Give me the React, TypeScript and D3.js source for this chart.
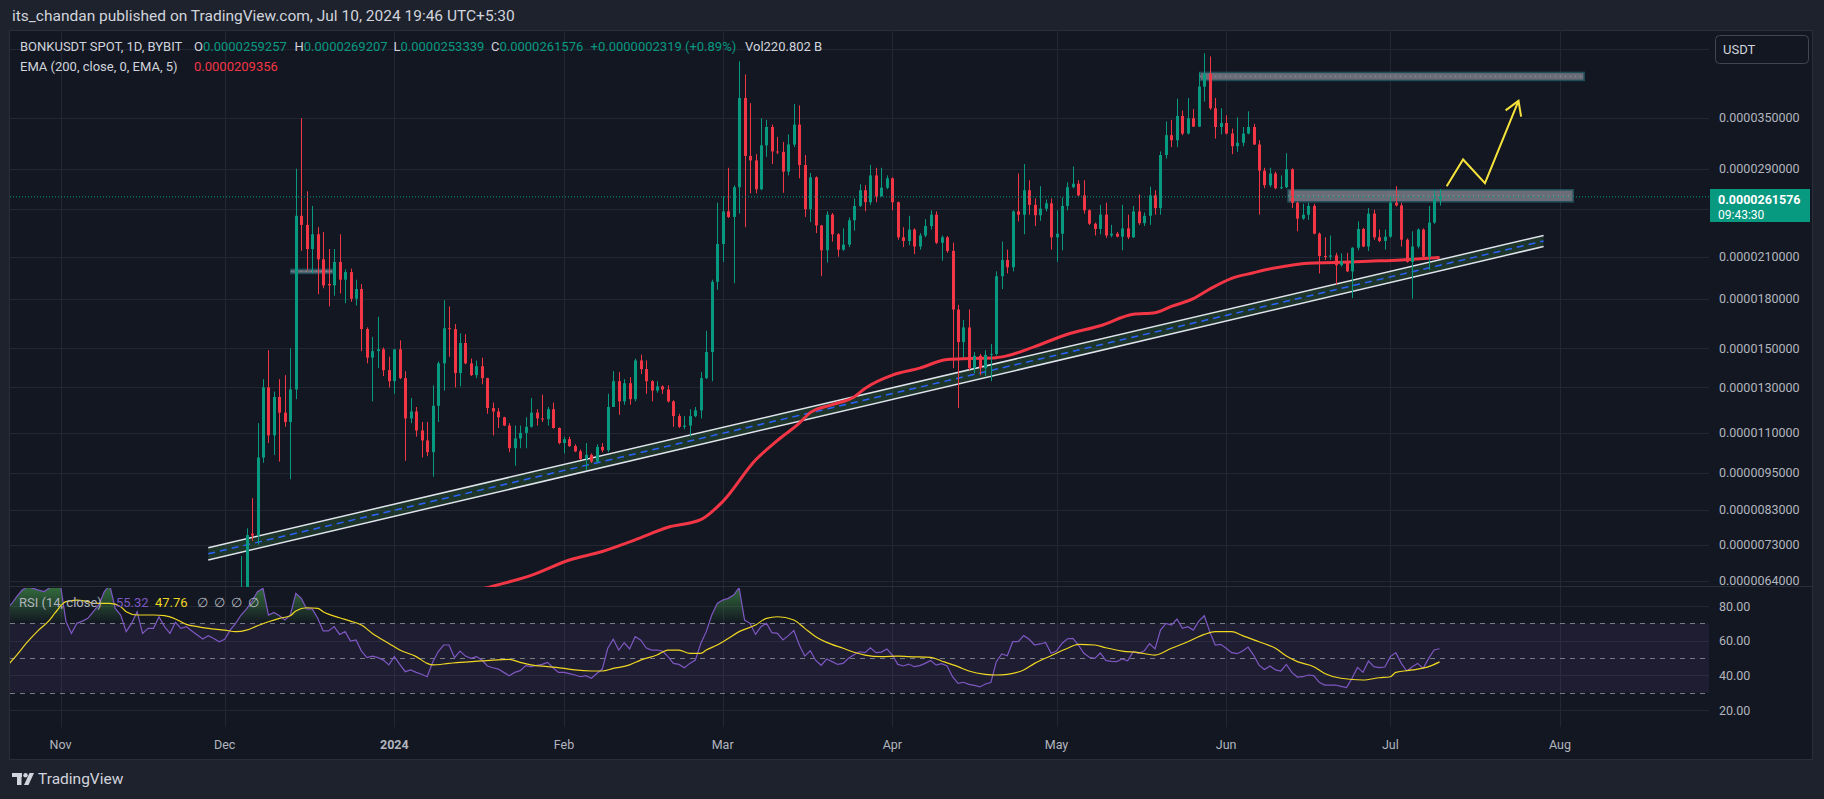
import * as d3 from "d3";

// open, high, low, close — prices in millionths of a USDT (1e-6)
type Bar = [number, number, number, number];

const decBars: Bar[] = [
  [5.2, 7.0, 5.0, 5.6], [5.6, 7.75, 5.4, 7.56], [7.6, 8.66, 7.4, 7.55], [7.55, 11.4, 7.3, 10.05],
  [10.05, 13.4, 9.86, 13.0], [13.0, 14.9, 10.6, 10.9], [10.9, 12.8, 10.15, 12.55], [12.55, 13.4, 9.9, 11.85],
  [11.85, 13.6, 11.25, 11.45], [11.45, 15.0, 9.28, 12.9], [12.9, 29.0, 12.45, 24.4], [24.4, 34.9, 21.45, 23.6],
  [23.6, 26.7, 20.0, 21.6], [21.6, 25.3, 19.75, 22.8], [22.8, 23.4, 18.3, 20.8], [20.8, 23.0, 18.7, 18.9],
  [19.0, 21.6, 17.5, 18.9], [18.9, 21.6, 18.2, 20.6], [20.6, 22.8, 18.35, 19.3], [19.3, 20.05, 17.7, 19.85],
  [19.85, 20.1, 17.8, 18.0], [18.0, 19.3, 17.55, 18.65], [18.65, 19.0, 14.85, 16.1], [16.1, 16.2, 14.2, 14.5],
  [14.5, 15.65, 12.35, 14.85], [14.85, 16.85, 13.95, 14.95], [14.95, 15.05, 13.55, 13.85], [13.85, 14.55, 13.0, 13.3],
];
const janBars: Bar[] = [
  [13.3, 14.95, 12.7, 14.95], [14.95, 15.45, 13.4, 13.45], [13.45, 13.8, 9.93, 11.6], [11.6, 12.5, 11.4, 11.9],
  [11.9, 12.1, 10.85, 11.1], [11.1, 11.45, 10.05, 10.7], [10.7, 11.45, 10.1, 10.25], [10.25, 13.1, 9.37, 12.15],
  [12.15, 14.3, 11.45, 14.2], [14.2, 17.9, 12.85, 16.15], [16.15, 17.5, 14.55, 16.1], [16.1, 16.4, 13.0, 13.7],
  [13.7, 15.85, 13.05, 15.3], [15.3, 15.8, 14.15, 14.2], [14.2, 14.45, 13.55, 13.6], [13.6, 14.35, 13.45, 14.05],
  [14.05, 14.5, 13.15, 13.45], [13.45, 13.47, 11.8, 12.05], [12.05, 12.3, 10.9, 11.9], [11.9, 12.05, 11.2, 11.65],
  [11.65, 11.67, 11.28, 11.3], [11.3, 11.4, 10.25, 10.4], [10.4, 11.3, 9.75, 10.78], [10.78, 11.3, 10.4, 11.0],
  [11.0, 11.65, 10.4, 11.25], [11.25, 12.5, 11.22, 11.85], [11.85, 12.0, 11.3, 11.6], [11.6, 12.65, 11.45, 11.57],
  [11.57, 12.1, 11.3, 12.0], [12.0, 12.3, 11.17, 11.2], [11.2, 11.22, 10.55, 10.6],
];
const febBars: Bar[] = [
  [10.6, 10.85, 10.2, 10.75], [10.75, 10.85, 10.45, 10.48], [10.48, 10.55, 10.25, 10.28], [10.28, 10.35, 9.96, 10.0],
  [10.0, 10.6, 9.6, 10.15], [10.15, 10.2, 9.85, 9.9], [9.9, 10.55, 9.85, 10.45], [10.45, 10.6, 10.25, 10.32],
  [10.32, 12.7, 10.25, 12.1], [12.1, 13.8, 12.1, 13.3], [13.3, 13.75, 11.75, 12.35], [12.35, 13.4, 12.2, 13.2],
  [13.2, 13.5, 12.2, 12.45], [12.45, 14.45, 12.35, 14.35], [14.35, 14.65, 13.65, 13.9], [13.9, 14.35, 12.7, 13.3],
  [13.3, 13.35, 12.35, 12.85], [12.85, 13.3, 12.75, 13.05], [13.05, 13.1, 12.7, 12.9], [12.9, 13.1, 12.3, 12.35],
  [12.35, 12.4, 11.25, 11.7], [11.7, 11.8, 11.2, 11.25], [11.25, 11.7, 11.15, 11.3], [11.3, 12.0, 10.85, 11.7],
  [11.7, 12.1, 11.65, 11.95], [11.95, 13.75, 11.6, 13.45], [13.45, 16.0, 13.4, 14.8], [14.8, 19.3, 13.3, 19.15],
  [19.15, 25.6, 18.6, 22.0],
];
const marBars: Bar[] = [
  [22.0, 26.2, 20.6, 24.8], [24.8, 29.1, 24.2, 24.3], [24.3, 27.3, 19.05, 27.1], [27.1, 43.0, 24.6, 37.6],
  [37.6, 41.0, 23.4, 30.4], [30.4, 36.9, 26.5, 29.9], [29.9, 30.6, 26.5, 26.9], [26.9, 34.9, 26.8, 31.6],
  [31.6, 34.7, 30.3, 33.8], [33.8, 34.1, 29.5, 30.9], [30.9, 32.6, 30.6, 30.85], [30.85, 32.0, 26.55, 28.7],
  [28.7, 32.9, 28.3, 31.7], [31.7, 36.8, 31.4, 34.1], [34.1, 36.6, 28.0, 29.4], [29.4, 30.5, 24.3, 25.0],
  [25.0, 28.55, 23.85, 28.1], [28.1, 28.2, 22.9, 23.55], [23.55, 23.6, 19.55, 21.5], [21.5, 24.8, 20.55, 24.5],
  [24.5, 24.65, 22.2, 22.8], [22.8, 22.9, 21.0, 21.55], [21.55, 23.3, 21.45, 21.95], [21.95, 24.25, 21.75, 24.0],
  [24.0, 26.0, 23.1, 25.3], [25.3, 27.4, 25.2, 26.8], [26.8, 27.3, 24.8, 25.65], [25.65, 29.4, 25.4, 28.3],
  [28.3, 29.1, 25.65, 26.2], [26.2, 29.1, 26.2, 27.05], [27.05, 28.3, 26.9, 28.0],
];
const aprBars: Bar[] = [
  [28.0, 28.1, 24.9, 25.65], [25.65, 25.7, 22.35, 22.55], [22.55, 23.4, 21.75, 22.25], [22.25, 24.4, 21.9, 23.2],
  [23.2, 23.3, 21.2, 21.8], [21.8, 22.9, 21.55, 22.7], [22.7, 24.1, 22.55, 23.5], [23.5, 24.9, 23.2, 24.5],
  [24.5, 24.8, 22.0, 22.1], [22.1, 22.7, 20.7, 22.55], [22.55, 22.65, 21.3, 21.45], [21.45, 22.1, 13.95, 17.3],
  [17.3, 17.6, 12.05, 15.35], [15.35, 16.65, 14.5, 16.2], [16.2, 17.3, 13.85, 13.95], [13.95, 14.8, 13.7, 14.6],
  [14.6, 14.7, 13.6, 13.95], [13.95, 14.9, 13.55, 14.65], [14.65, 15.25, 13.3, 14.7], [14.7, 19.9, 14.6, 19.55],
  [19.55, 22.2, 18.65, 20.75], [20.75, 21.55, 19.75, 20.2], [20.2, 24.9, 19.9, 24.8], [24.8, 28.5, 23.9, 24.5],
  [24.5, 29.5, 22.8, 26.8], [26.8, 27.8, 24.5, 25.4], [25.4, 26.0, 23.5, 24.45], [24.45, 27.2, 23.95, 25.05],
  [25.05, 25.9, 24.8, 25.55], [25.55, 26.0, 21.55, 22.55],
];
const mayBars: Bar[] = [
  [22.55, 24.9, 20.6, 22.85], [22.85, 26.1, 21.5, 25.3], [25.3, 27.6, 24.9, 27.1], [27.1, 29.25, 27.0, 27.45],
  [27.45, 27.8, 26.2, 26.3], [26.3, 27.8, 24.6, 24.9], [24.9, 25.0, 23.6, 23.7], [23.7, 23.8, 22.7, 23.25],
  [23.25, 25.4, 22.8, 24.5], [24.5, 25.6, 22.5, 22.7], [22.7, 23.6, 22.55, 22.85], [22.85, 23.0, 22.55, 22.6],
  [22.6, 25.4, 21.5, 23.3], [23.3, 24.5, 22.4, 22.55], [22.55, 25.3, 22.5, 24.8], [24.8, 26.4, 23.6, 23.75],
  [23.75, 24.7, 23.5, 24.4], [24.4, 27.15, 23.6, 26.3], [26.3, 26.8, 24.5, 25.1], [25.1, 30.9, 24.5, 30.5],
  [30.5, 34.5, 30.1, 32.8], [32.8, 34.7, 31.4, 32.2], [32.2, 37.5, 31.4, 35.2], [35.2, 35.9, 32.8, 33.0],
  [33.0, 37.6, 32.9, 34.9], [34.9, 36.1, 33.8, 33.85], [33.85, 41.3, 33.8, 39.2], [39.2, 44.3, 37.1, 41.1],
  [41.1, 43.8, 36.0, 36.2], [36.2, 37.6, 32.4, 33.8], [33.8, 36.2, 32.9, 34.3],
];
const junBars: Bar[] = [
  [34.3, 35.3, 32.9, 33.0], [33.0, 33.6, 30.6, 31.5], [31.5, 35.0, 30.85, 31.9], [31.9, 33.8, 31.5, 33.0],
  [33.0, 35.8, 32.9, 33.8], [33.8, 34.2, 31.65, 31.7], [31.7, 32.2, 24.5, 28.8], [28.8, 29.1, 27.0, 27.3],
  [27.3, 29.1, 27.1, 28.5], [28.5, 28.7, 26.9, 27.0], [27.0, 28.3, 26.9, 27.1], [27.1, 30.7, 27.0, 28.95],
  [28.95, 29.05, 25.1, 25.6], [25.6, 25.7, 23.05, 24.15], [24.15, 25.5, 24.05, 24.5], [24.5, 25.6, 24.05, 25.3],
  [25.3, 25.5, 22.8, 22.85], [22.85, 22.95, 19.75, 21.05], [21.05, 22.55, 20.75, 21.0], [21.0, 22.7, 20.75, 21.1],
  [21.1, 21.3, 18.95, 20.35], [20.35, 21.25, 20.25, 20.65], [20.65, 21.3, 19.85, 19.9], [19.9, 21.75, 18.05, 21.7],
  [21.7, 23.9, 21.5, 23.25], [23.25, 23.35, 21.75, 21.8], [21.8, 25.1, 21.45, 24.6], [24.6, 24.95, 22.35, 22.55],
  [22.55, 23.2, 22.15, 22.25], [22.25, 23.2, 21.55, 22.6],
];
const julBars: Bar[] = [
  [22.6, 26.15, 22.5, 25.6], [25.6, 27.2, 25.25, 25.35], [25.35, 25.6, 21.8, 22.35], [22.35, 22.45, 20.55, 20.6],
  [20.6, 23.05, 18.0, 21.8], [21.8, 23.3, 21.65, 23.2], [23.2, 23.3, 20.85, 21.0], [21.0, 25.3, 20.0, 23.8],
  [23.8, 26.8, 23.7, 25.9257], [25.9257, 26.9207, 25.3339, 26.1576],
];

const barMonths: [string, Bar[]][] = [
  ["2023-12-04", decBars], ["2024-01-01", janBars], ["2024-02-01", febBars], ["2024-03-01", marBars],
  ["2024-04-01", aprBars], ["2024-05-01", mayBars], ["2024-06-01", junBars], ["2024-07-01", julBars],
];

// EMA 200 (same units), read at points along the curve
const ema200: [string, number][] = [
  ["2024-01-10", 6.0], ["2024-01-19", 6.27], ["2024-01-26", 6.52], ["2024-02-02", 6.9], ["2024-02-08", 7.12],
  ["2024-02-14", 7.43], ["2024-02-20", 7.78], ["2024-02-26", 8.0], ["2024-03-01", 8.55], ["2024-03-07", 9.96],
  ["2024-03-11", 10.7], ["2024-03-15", 11.4], ["2024-03-17", 11.85], ["2024-03-21", 12.2], ["2024-03-25", 12.55],
  ["2024-03-27", 12.95], ["2024-04-01", 13.6], ["2024-04-06", 13.95], ["2024-04-11", 14.4], ["2024-04-15", 14.45],
  ["2024-04-20", 14.5], ["2024-04-22", 14.6], ["2024-04-27", 15.1], ["2024-05-03", 15.8], ["2024-05-09", 16.3],
  ["2024-05-15", 17.0], ["2024-05-19", 17.1], ["2024-05-22", 17.5], ["2024-05-26", 18.0], ["2024-05-29", 18.65],
  ["2024-06-02", 19.4], ["2024-06-06", 19.8], ["2024-06-08", 20.0], ["2024-06-12", 20.3], ["2024-06-16", 20.5],
  ["2024-06-21", 20.55], ["2024-06-27", 20.65], ["2024-07-03", 20.75], ["2024-07-10", 20.9356],
];

// RSI(14), one value per day from the start date
const rsiStart = "2023-10-22";
const rsiValues = [
  79, 81, 85.4, 89.2, 91.1, 90.2, 89.2, 88.3, 90.5, 93,
  92, 71, 64.2, 70, 71.3, 72.9, 76.7, 80.6, 88.3, 92,
  78.6, 74.8, 65.2, 70, 76.7, 64.2, 67.1, 67.1, 73.8, 68.1,
  64.2, 70.6, 67.1, 68.1, 65.6, 63.3, 61, 62.9, 61.3, 59.4,
  60.8, 66.1, 70, 74.8, 78.3, 82.9, 88.3, 90.2, 74.8, 76.3,
  74.4, 71.9, 74.8, 87.3, 84.4, 78.3, 78.3, 72.9, 65.6, 65.6,
  68.1, 63.6, 65.2, 59.8, 60.4, 54, 50.2, 51.1, 50.2, 48.8,
  46, 50.8, 46.3, 42.1, 43.1, 41.7, 40.6, 39.2, 47.5, 53.6,
  57.5, 57.5, 50.2, 54, 51.1, 49.8, 50.8, 48.8, 45.4, 44.4,
  43.6, 41.7, 39.8, 41.7, 42.7, 45.6, 45, 45.8, 46.3, 47.5,
  44.4, 41.7, 41.7, 41, 40.2, 39.2, 39.8, 38.3, 41.1, 43.6,
  55.6, 60.8, 54.6, 58.8, 55.2, 62.3, 60.4, 55.9, 54.6, 54.6,
  54, 50.8, 46.9, 46.3, 44.4, 46.9, 48.8, 58.4, 65.2, 74.8,
  81.5, 83.4, 84.4, 86.3, 90.6, 71.9, 70, 63.6, 68.1, 70,
  64.6, 64.2, 60.4, 62.9, 65.8, 57.5, 51.1, 54.2, 48.6, 45.8,
  49.4, 47.9, 46.3, 46.9, 49.8, 51.9, 53.6, 53.1, 55.9, 53.1,
  53.4, 55.2, 51.7, 46.3, 45.4, 46.5, 45, 45.6, 46.9, 48.6,
  45.9, 46.7, 45.4, 39.2, 35.4, 36, 34.8, 34.2, 33.3, 35,
  35.8, 47.9, 52.3, 51.3, 59.4, 59.4, 62.9, 60.8, 57.5, 58.1,
  59, 52.7, 54, 58.4, 61.1, 61.3, 57.5, 52.7, 50.4, 49.8,
  52.9, 48.6, 48.1, 47.9, 49.4, 48.4, 53.6, 52.7, 54, 58.3,
  55.2, 66.1, 70, 69, 72.5, 67.1, 68.1, 66.1, 71.3, 74.4,
  65.2, 57.5, 57.9, 55.6, 53.1, 52.5, 54, 56.3, 51.7, 45.9,
  43.4, 45.4, 43.1, 42.5, 46.3, 41.7, 39, 39.2, 40.2, 39.8,
  36, 34.4, 34.4, 34.4, 33.6, 32.9, 38.3, 44.6, 41.7, 48.2,
  45, 44.4, 44.8, 50.8, 53.1, 46.9, 42.5, 45, 46.9, 44,
  49.8, 54.6, 55.32,
];

// RSI-based MA, read at points along the curve
const rsiMa: [string, number][] = [
  ["2023-10-22", 44.5], ["2023-10-24", 51.7], ["2023-10-26", 59.4], ["2023-10-28", 66.1], ["2023-10-30", 71.9],
  ["2023-10-31", 76], ["2023-11-02", 82.5], ["2023-11-04", 83.4], ["2023-11-06", 82.5], ["2023-11-07", 81.5],
  ["2023-11-10", 81.5], ["2023-11-12", 79.6], ["2023-11-13", 76.7], ["2023-11-15", 74.8], ["2023-11-18", 74.8],
  ["2023-11-20", 74.4], ["2023-11-22", 72.5], ["2023-11-24", 69.4], ["2023-11-26", 68.1], ["2023-11-28", 67.1],
  ["2023-12-01", 66.1], ["2023-12-03", 65.2], ["2023-12-05", 66.1], ["2023-12-07", 68.6], ["2023-12-09", 70.9],
  ["2023-12-11", 72.9], ["2023-12-13", 74.4], ["2023-12-14", 77.1], ["2023-12-16", 79], ["2023-12-18", 78.6],
  ["2023-12-19", 76.7], ["2023-12-22", 73.2], ["2023-12-24", 71.3], ["2023-12-26", 69], ["2023-12-28", 64.2],
  ["2023-12-31", 58.4], ["2024-01-02", 54.6], ["2024-01-05", 50.8], ["2024-01-07", 46.9], ["2024-01-08", 46],
  ["2024-01-11", 46.9], ["2024-01-13", 47.5], ["2024-01-17", 48.3], ["2024-01-19", 48.8], ["2024-01-22", 49.2],
  ["2024-01-24", 47.5], ["2024-01-26", 46], ["2024-01-29", 45], ["2024-02-01", 44], ["2024-02-03", 43.1],
  ["2024-02-06", 42.5], ["2024-02-08", 42.5], ["2024-02-10", 44], ["2024-02-13", 46], ["2024-02-15", 48.8],
  ["2024-02-18", 51.7], ["2024-02-20", 54.6], ["2024-02-22", 54.6], ["2024-02-24", 52.7], ["2024-02-26", 52.7],
  ["2024-02-27", 54.6], ["2024-02-29", 57.5], ["2024-03-02", 61.3], ["2024-03-04", 65.2], ["2024-03-07", 69],
  ["2024-03-09", 72.9], ["2024-03-11", 73.8], ["2024-03-14", 71.9], ["2024-03-16", 67.1], ["2024-03-18", 62.3],
  ["2024-03-20", 59], ["2024-03-23", 55.6], ["2024-03-25", 53.3], ["2024-03-27", 51.7], ["2024-03-30", 50.8],
  ["2024-04-02", 51.1], ["2024-04-04", 50.8], ["2024-04-08", 50.4], ["2024-04-10", 48.3], ["2024-04-13", 45],
  ["2024-04-15", 42.5], ["2024-04-18", 40.6], ["2024-04-20", 40.2], ["2024-04-22", 40.6], ["2024-04-25", 43.1],
  ["2024-04-27", 46.9], ["2024-04-30", 51.3], ["2024-05-03", 55.6], ["2024-05-05", 57.9], ["2024-05-08", 57.5],
  ["2024-05-10", 55.9], ["2024-05-13", 54], ["2024-05-16", 53.1], ["2024-05-19", 51.7], ["2024-05-22", 55.6],
  ["2024-05-25", 59.4], ["2024-05-28", 63.6], ["2024-05-30", 65.2], ["2024-06-02", 65.2], ["2024-06-04", 62.9],
  ["2024-06-07", 59.4], ["2024-06-10", 55.6], ["2024-06-12", 51.1], ["2024-06-14", 47.9], ["2024-06-17", 45],
  ["2024-06-19", 41.1], ["2024-06-22", 38.3], ["2024-06-26", 37.3], ["2024-06-29", 38.6], ["2024-07-01", 39.2],
  ["2024-07-02", 41.7], ["2024-07-05", 43.1], ["2024-07-08", 45], ["2024-07-10", 47.76],
];

// grid levels; the 45 and 25 labels sit under the USDT box and the price label, so only the rest are printed
const priceGrid = [45, 35, 29, 25, 21, 18, 15, 13, 11, 9.5, 8.3, 7.3, 6.4];
const priceLabels = [35, 29, 21, 18, 15, 13, 11, 9.5, 8.3, 7.3, 6.4];
const rsiTicks = [80, 60, 40, 20];
const rsiBands = [70, 50, 30];
const monthTicks: [string, string][] = [
  ["2023-11-01", "Nov"], ["2023-12-01", "Dec"], ["2024-01-01", "2024"], ["2024-02-01", "Feb"],
  ["2024-03-01", "Mar"], ["2024-04-01", "Apr"], ["2024-05-01", "May"], ["2024-06-01", "Jun"],
  ["2024-07-01", "Jul"], ["2024-08-01", "Aug"],
];

// drawings
const channelEnds: [string, string] = ["2023-11-28", "2024-07-29"];
const channelUpper: [number, number] = [7.22, 22.7];
const channelLower: [number, number] = [6.9, 21.8];
const zones: [string, string, number, number][] = [
  ["2024-05-27T05:00Z", "2024-08-05T10:00Z", 40.1, 41.3],
  ["2024-06-12T07:00Z", "2024-08-03T10:00Z", 25.68, 26.85],
  ["2023-12-13T02:00Z", "2023-12-20T19:00Z", 19.75, 20.05],
];
const arrowPath: [string, number][] = [
  ["2024-07-11T07:00Z", 27.2], ["2024-07-14T07:00Z", 30.0], ["2024-07-18T07:00Z", 27.5], ["2024-07-24T10:00Z", 37.2],
];

const UP = "#089981";
const DN = "#f23645";
const TXT = "#b2b5be";
const FONT = "Roboto, 'Open Sans', sans-serif";

const day = (s: string) => new Date(s.length === 10 ? s + "T00:00:00Z" : s);
const fmtP = (v: number) => (v * 1e-6).toFixed(10);

export default function App() {
  const L = 10, R = 1709, T = 30, MB = 587, RT = 588, RB = 727;

  const x = d3.scaleUtc().domain([day("2023-11-01"), day("2024-08-01")]).range([60.5, 1560]);
  const y = d3.scaleLog().domain([6.4, 35]).range([580.5, 117.5]);
  const yr = d3.scaleLinear().domain([20, 80]).range([710, 606]);

  const bars = barMonths.flatMap(([s, list]) =>
    list.map((b, i) => ({ t: d3.utcDay.offset(day(s), i), o: b[0], h: b[1], l: b[2], c: b[3] }))
  );
  const last = bars[bars.length - 1];
  const prev = bars[bars.length - 2];
  const chg = last.c - prev.c;

  const emaLine = d3.line<[string, number]>().x((d) => x(day(d[0]))).y((d) => y(d[1])).curve(d3.curveMonotoneX);

  const rsi = rsiValues.map((v, i) => ({ t: d3.utcDay.offset(day(rsiStart), i), v }));
  const rsiLine = d3.line<{ t: Date; v: number }>().x((d) => x(d.t)).y((d) => yr(d.v));
  const obArea = d3.area<{ t: Date; v: number }>().x((d) => x(d.t)).y0(yr(70)).y1((d) => yr(d.v));
  const maLine = d3.line<[string, number]>().x((d) => x(day(d[0]))).y((d) => yr(d[1])).curve(d3.curveMonotoneX);

  const cx0 = x(day(channelEnds[0])), cx1 = x(day(channelEnds[1]));
  const up0 = y(channelUpper[0]), up1 = y(channelUpper[1]);
  const lo0 = y(channelLower[0]), lo1 = y(channelLower[1]);

  const arrowPts = arrowPath.map(([t, v]) => [x(day(t)), y(v)] as [number, number]);
  const [ax0, ay0] = arrowPts[arrowPts.length - 2];
  const [ax1, ay1] = arrowPts[arrowPts.length - 1];
  const ang = Math.atan2(ay1 - ay0, ax1 - ax0);
  const head = (da: number) => [ax1 - 16 * Math.cos(ang + da), ay1 - 16 * Math.sin(ang + da)];
  const h1 = head(0.55), h2 = head(-0.55);

  const priceY = y(last.c);

  return (
    <svg width={1824} height={799} style={{ position: "absolute", left: 0, top: 0, display: "block" }} fontFamily={FONT}>
      <defs>
        <clipPath id="main"><rect x={L} y={T} width={R - L} height={MB - T} /></clipPath>
        <clipPath id="rsi"><rect x={L} y={RT} width={R - L} height={RB - RT} /></clipPath>
        <clipPath id="ob"><rect x={L} y={RT} width={R - L} height={yr(70) - RT} /></clipPath>
        <linearGradient id="obg" gradientUnits="userSpaceOnUse" x1={0} y1={yr(100)} x2={0} y2={yr(70)}>
          <stop offset="0" stopColor="#4caf50" stopOpacity={0.8} />
          <stop offset="1" stopColor="#4caf50" stopOpacity={0} />
        </linearGradient>
      </defs>

      <rect width={1824} height={799} fill="#1e222d" />
      <rect x={9.5} y={30.5} width={1803} height={729} fill="#131722" stroke="#2a2e39" />

      <text x={12} y={21} fontSize={15.5} fill="#d1d4dc">its_chandan published on TradingView.com, Jul 10, 2024 19:46 UTC+5:30</text>

      {/* grid */}
      {priceGrid.map((p) => (
        <line key={p} x1={L} x2={R} y1={Math.round(y(p)) + 0.5} y2={Math.round(y(p)) + 0.5} stroke="#232733" />
      ))}
      {rsiTicks.map((v) => (
        <line key={v} x1={L} x2={R} y1={Math.round(yr(v)) + 0.5} y2={Math.round(yr(v)) + 0.5} stroke="#232733" />
      ))}
      {monthTicks.map(([t]) => (
        <line key={t} x1={Math.round(x(day(t))) + 0.5} x2={Math.round(x(day(t))) + 0.5} y1={T} y2={RB} stroke="#232733" />
      ))}
      <line x1={L} x2={1812} y1={MB - 0.5} y2={MB - 0.5} stroke="#2a2e39" />

      {/* main pane */}
      <g clipPath="url(#main)">
        <polygon points={`${cx0},${up0} ${cx1},${up1} ${cx1},${lo1} ${cx0},${lo0}`} fill="rgba(76,175,80,0.2)" />
        <line x1={cx0} y1={(up0 + lo0) / 2} x2={cx1} y2={(up1 + lo1) / 2} stroke="#2962ff" strokeWidth={1.5} strokeDasharray="7 5" />
        <line x1={cx0} y1={up0} x2={cx1} y2={up1} stroke="#e0e3eb" strokeWidth={1.5} />
        <line x1={cx0} y1={lo0} x2={cx1} y2={lo1} stroke="#e0e3eb" strokeWidth={1.5} />

        {zones.map(([t0, t1, lo, hi], i) => {
          const zx = x(day(t0)), zw = x(day(t1)) - zx;
          return (
            <g key={i}>
              <rect x={zx} y={y(hi)} width={zw} height={y(lo) - y(hi)} fill="rgba(140,143,152,0.72)" stroke="#1f4e5a" strokeWidth={1.5} />
              <line x1={zx} x2={zx + zw} y1={(y(hi) + y(lo)) / 2} y2={(y(hi) + y(lo)) / 2} stroke="#9598a1" strokeDasharray="1 4" />
            </g>
          );
        })}

        <path d={emaLine(ema200) ?? ""} fill="none" stroke={DN} strokeWidth={3} strokeLinejoin="round" />

        {bars.map((b, i) => {
          const cx = Math.round(x(b.t)) + 0.5;
          const col = b.c >= b.o ? UP : DN;
          const top = y(Math.max(b.o, b.c));
          const bot = y(Math.min(b.o, b.c));
          return (
            <g key={i}>
              <line x1={cx} x2={cx} y1={y(b.h)} y2={y(b.l)} stroke={col} />
              <rect x={cx - 1.5} y={top} width={3} height={Math.max(1, bot - top)} fill={col} />
            </g>
          );
        })}

        <polyline points={arrowPts.map((p) => p.join(",")).join(" ")} fill="none" stroke="#f5e33b" strokeWidth={2} strokeLinejoin="miter" />
        <polyline points={`${h1[0]},${h1[1]} ${ax1},${ay1} ${h2[0]},${h2[1]}`} fill="none" stroke="#f5e33b" strokeWidth={2} />

        <line x1={L} x2={R} y1={priceY} y2={priceY} stroke={UP} strokeDasharray="1 2" />
      </g>

      {/* RSI pane */}
      <rect x={L} y={yr(70)} width={R - L} height={yr(30) - yr(70)} fill="rgba(126,87,194,0.1)" />
      {rsiBands.map((v) => (
        <line key={v} x1={L} x2={R} y1={Math.round(yr(v)) + 0.5} y2={Math.round(yr(v)) + 0.5} stroke="#787b86" strokeDasharray="5 5" />
      ))}
      <g clipPath="url(#rsi)">
        <g clipPath="url(#ob)">
          <path d={obArea(rsi) ?? ""} fill="url(#obg)" />
        </g>
        <path d={rsiLine(rsi) ?? ""} fill="none" stroke="#7e57c2" strokeWidth={1.2} />
        <path d={maLine(rsiMa) ?? ""} fill="none" stroke="#f0d722" strokeWidth={1.2} />
      </g>

      {/* legends */}
      <g fontSize={13}>
        <text x={20} y={51} fill="#d1d4dc">BONKUSDT SPOT, 1D, BYBIT</text>
        <text x={194} y={51}><tspan fill="#d1d4dc">O</tspan><tspan fill={UP}>{fmtP(last.o)}</tspan></text>
        <text x={294.5} y={51}><tspan fill="#d1d4dc">H</tspan><tspan fill={UP}>{fmtP(last.h)}</tspan></text>
        <text x={393.5} y={51}><tspan fill="#d1d4dc">L</tspan><tspan fill={UP}>{fmtP(last.l)}</tspan></text>
        <text x={491} y={51}><tspan fill="#d1d4dc">C</tspan><tspan fill={UP}>{fmtP(last.c)}</tspan></text>
        <text x={590.6} y={51} fill={UP}>{`+${fmtP(chg)} (+${((chg / prev.c) * 100).toFixed(2)}%)`}</text>
        <text x={745} y={51} fill="#d1d4dc">Vol<tspan>220.802 B</tspan></text>
        <text x={20} y={71} fill="#d1d4dc">EMA (200, close, 0, EMA, 5)</text>
        <text x={194} y={71} fill={DN}>{fmtP(ema200[ema200.length - 1][1])}</text>

        <text x={19} y={607} fill={TXT}>RSI (14, close)</text>
        <text x={116} y={607} fill="#7e57c2">{rsiValues[rsiValues.length - 1].toFixed(2)}</text>
        <text x={155} y={607} fill="#f0d722">{rsiMa[rsiMa.length - 1][1].toFixed(2)}</text>
        {[197, 214, 231, 248].map((tx) => (
          <text key={tx} x={tx} y={607} fill={TXT}>∅</text>
        ))}
      </g>

      {/* price axis */}
      <g fontSize={12.5} fill={TXT}>
        {priceLabels.map((p) => (
          <text key={p} x={1719} y={y(p) + 4.5}>{fmtP(p)}</text>
        ))}
        {rsiTicks.map((v) => (
          <text key={v} x={1719} y={yr(v) + 4.5}>{v.toFixed(2)}</text>
        ))}
      </g>
      <rect x={1715.5} y={35.5} width={93} height={28} rx={4} fill="#131722" stroke="#434651" />
      <text x={1723} y={54} fontSize={13} fill="#d1d4dc">USDT</text>

      <rect x={1710} y={189} width={100} height={33} fill={UP} />
      <text x={1718} y={203.5} fontSize={12.5} fontWeight={700} fill="#ffffff">{fmtP(last.c)}</text>
      <text x={1718} y={218.5} fontSize={12} fill="#ffffff">09:43:30</text>

      {/* time axis */}
      {monthTicks.map(([t, label]) => (
        <text key={t} x={x(day(t))} y={748.5} fontSize={12.5} fill={TXT} textAnchor="middle" fontWeight={label === "2024" ? 700 : 400}>
          {label}
        </text>
      ))}

      {/* footer logo */}
      <g fill="#d1d4dc">
        <rect x={12} y={773} width={10} height={4} />
        <rect x={17} y={773} width={4.5} height={12} />
        <circle cx={25.5} cy={775.2} r={2.2} />
        <polygon points="24,785 29.5,773 34,773 28.5,785" />
        <text x={38} y={784} fontSize={15.5}>TradingView</text>
      </g>
    </svg>
  );
}
